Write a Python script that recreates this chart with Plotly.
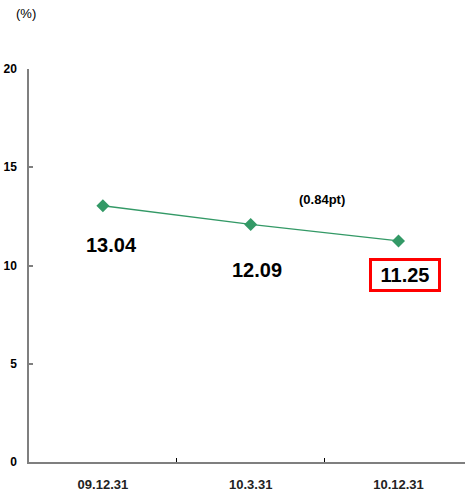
import plotly.graph_objects as go

# Capital ratio by reporting date
dates = ["09.12.31", "10.3.31", "10.12.31"]
ratios = [13.04, 12.09, 11.25]
change_note = "(0.84pt)"
y_ticks = [0, 5, 10, 15, 20]

green = "#339966"
axis_gray = "#7f7f7f"
font_family = "Liberation Sans, Arial, sans-serif"

fig = go.Figure()
fig.add_trace(go.Scatter(
    x=dates, y=ratios, mode="lines+markers",
    line=dict(color=green, width=1.3),
    marker=dict(symbol="diamond", size=10, color=green),
    hoverinfo="skip", showlegend=False,
))

# value labels under each point; the latest one is boxed in red
label_shift = [(9, -39), (6, -46), (7, -34)]
for i, (d, v) in enumerate(zip(dates, ratios)):
    dx, dy = label_shift[i]
    ann = dict(
        x=d, y=v, xref="x", yref="y", text=f"<b>{v:.2f}</b>",
        showarrow=False, xshift=dx, yshift=dy,
        font=dict(family=font_family, size=20, color="#000000"),
    )
    if i == len(dates) - 1:
        ann.update(bordercolor="#ff0000", borderwidth=3, borderpad=1,
                   width=64, height=26, bgcolor="#ffffff")
    fig.add_annotation(**ann)

# change between the last two dates
fig.add_annotation(
    x=1.48, y=ratios[1], xref="x", yref="y", yshift=25,
    text=f"<b>{change_note}</b>", showarrow=False,
    font=dict(family=font_family, size=13, color="#000000"),
)

# unit label above the value axis
fig.add_annotation(
    x=0, y=1, xref="paper", yref="paper", xanchor="center", yanchor="middle",
    xshift=-3, yshift=56, text="(%)", showarrow=False,
    font=dict(family=font_family, size=13, color="#000000"),
)

fig.update_layout(
    width=465, height=493,
    margin=dict(l=29, r=0, t=69, b=31),
    paper_bgcolor="#ffffff", plot_bgcolor="#ffffff",
    font=dict(family=font_family, color="#000000"),
    xaxis=dict(
        type="category", range=[-0.5, 2.45],
        showline=True, linecolor=axis_gray, linewidth=1.5,
        showgrid=False, zeroline=False,
        ticks="inside", ticklen=4, tickcolor="#000000", tickwidth=1,
        tickson="boundaries",
        tickprefix="<b>", ticksuffix="</b>",
        tickfont=dict(family=font_family, size=13, color="#222222"),
        ticklabelstandoff=10,
    ),
    yaxis=dict(
        range=[0, 20], tickvals=y_ticks,
        ticktext=[f"<b>{t}</b>" for t in y_ticks],
        showline=True, linecolor=axis_gray, linewidth=1.5,
        showgrid=False, zeroline=False,
        ticks="inside", ticklen=4, tickcolor=axis_gray, tickwidth=1.5,
        tickfont=dict(family=font_family, size=12, color="#000000"),
        ticklabelstandoff=8,
    ),
)

fig.write_html("out.html")
